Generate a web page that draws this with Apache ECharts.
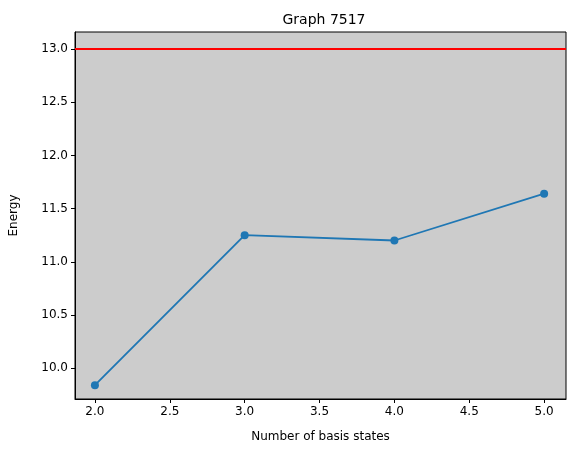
<!DOCTYPE html>
<html>
<head>
<meta charset="utf-8">
<script src="https://cdn.jsdelivr.net/npm/echarts@6/dist/echarts.min.js"></script>
<style>html,body{margin:0;padding:0;background:#fff}</style>
</head>
<body>
<div id="chart" style="width:576px;height:455px"></div>
<script>
var basisStates = [2, 3, 4, 5];
var energies = [9.84, 11.25, 11.20, 11.64];
var referenceEnergy = 13.0;

var myChart = echarts.init(document.getElementById('chart'));
var font = 'DejaVu Sans';
var option = {
    animation: false,
    textStyle: { fontFamily: font },
    title: {
        text: 'Graph 7517', left: 319, top: 8, textAlign: 'center',
        textStyle: { fontFamily: font, fontSize: 14, fontWeight: 'normal', color: '#000' }
    },
    grid: { left: 73, right: 10, top: 32, bottom: 56, backgroundColor: '#cccccc', show: true, borderColor: '#000', borderWidth: 1 },
    xAxis: {
        type: 'value', min: 1.867, max: 5.146, splitNumber: 6,
        name: 'Number of basis states', nameLocation: 'middle', nameGap: 32,
        nameTextStyle: { color: '#000', fontSize: 12 },
        axisLine: { lineStyle: { color: '#000' } },
        axisTick: { length: 4, lineStyle: { color: '#000' } },
        splitLine: { show: false },
        axisLabel: { color: '#000', fontSize: 12, margin: 7, showMinLabel: false, showMaxLabel: false,
            formatter: function (v) { return v.toFixed(1); } }
    },
    yAxis: {
        type: 'value', min: 9.71, max: 13.16, splitNumber: 7,
        name: 'Energy', nameLocation: 'middle', nameGap: 55,
        nameTextStyle: { color: '#000', fontSize: 12 },
        axisLine: { show: true, lineStyle: { color: '#000' } },
        axisTick: { show: true, length: 4, lineStyle: { color: '#000' } },
        splitLine: { show: false },
        axisLabel: { color: '#000', fontSize: 12, margin: 7, showMinLabel: false, showMaxLabel: false,
            formatter: function (v) { return v.toFixed(1); } }
    },
    series: [{
        type: 'line',
        data: basisStates.map(function (x, i) { return [x, energies[i]]; }),
        symbol: 'circle', symbolSize: 8,
        lineStyle: { color: '#1f77b4', width: 1.8 },
        itemStyle: { color: '#1f77b4' },
        markLine: {
            silent: true, symbol: 'none', label: { show: false },
            lineStyle: { color: '#ff0000', type: 'solid', width: 1.8 },
            data: [{ yAxis: referenceEnergy }]
        }
    }]
};
myChart.setOption(option);
</script>
</body>
</html>
